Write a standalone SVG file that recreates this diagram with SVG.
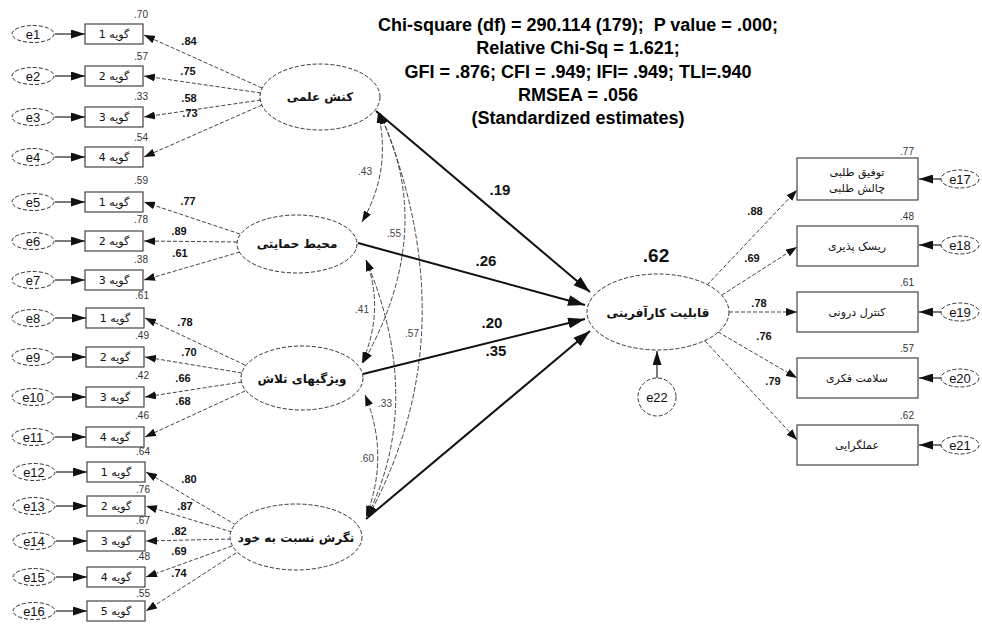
<svg xmlns="http://www.w3.org/2000/svg" width="982" height="624" viewBox="0 0 982 624">
<defs>
<style>
.lat{fill:#fff;stroke:#333;stroke-width:1;stroke-dasharray:4 2}
.err{fill:#fff;stroke:#333;stroke-width:1;stroke-dasharray:4 2}
.box{fill:#fff;stroke:#444;stroke-width:1.2}
.ld{stroke:#444;stroke-width:1;stroke-dasharray:4 2;fill:none;marker-end:url(#ah)}
.cov{stroke:#333;stroke-width:0.9;stroke-dasharray:5 2;fill:none;marker-start:url(#ah2);marker-end:url(#ah2)}
.str{stroke:#111;stroke-width:2;fill:none;marker-end:url(#ahb)}
.ea{stroke:#222;stroke-width:1.2;fill:none;marker-end:url(#ahe)}
.num{font-family:"Liberation Sans",Arial,sans-serif;fill:#111}
.r2{font-family:"Liberation Sans",Arial,sans-serif;font-size:10px;fill:#333;text-anchor:middle}
.lv{font-family:"Liberation Sans",Arial,sans-serif;font-size:11px;font-weight:bold;fill:#111;text-anchor:middle}
.cv{font-family:"Liberation Sans",Arial,sans-serif;font-size:10px;fill:#444;text-anchor:middle}
.sv{font-family:"Liberation Sans",Arial,sans-serif;font-size:15px;font-weight:bold;fill:#111;text-anchor:middle}
.et{font-family:"Liberation Sans",Arial,sans-serif;font-size:13px;fill:#111;text-anchor:middle}
.fa{font-family:"DejaVu Sans","Noto Sans",sans-serif;font-size:11px;fill:#111;text-anchor:middle}
.fab{font-family:"DejaVu Sans","Noto Sans",sans-serif;font-size:12px;font-weight:bold;fill:#111;text-anchor:middle}
.ttl{font-family:"Liberation Sans",Arial,sans-serif;font-size:18px;font-weight:bold;fill:#000;text-anchor:middle}
</style>
<marker id="ah" markerUnits="userSpaceOnUse" markerWidth="11" markerHeight="8" refX="11" refY="4" orient="auto"><path d="M0,0 L11,4 L0,8 z" fill="#111"/></marker>
<marker id="ah2" markerUnits="userSpaceOnUse" markerWidth="11" markerHeight="8" refX="11" refY="4" orient="auto-start-reverse"><path d="M0,0 L11,4 L0,8 z" fill="#111"/></marker>
<marker id="ahe" markerUnits="userSpaceOnUse" markerWidth="14" markerHeight="9" refX="14" refY="4.5" orient="auto"><path d="M0,0 L14,4.5 L0,9 z" fill="#111"/></marker>
<marker id="ahb" markerUnits="userSpaceOnUse" markerWidth="17" markerHeight="11" refX="17" refY="5.5" orient="auto"><path d="M0,0 L17,5.5 L0,11 z" fill="#111"/></marker>
</defs>
<rect width="982" height="624" fill="#fff"/>

<g id="title">
<text class="ttl" x="578" y="31">Chi-square (df) = 290.114 (179);&#160; P value = .000;</text>
<text class="ttl" x="578" y="54">Relative Chi-Sq = 1.621;</text>
<text class="ttl" x="578" y="78">GFI = .876; CFI = .949; IFI= .949; TLI=.940</text>
<text class="ttl" x="578" y="101">RMSEA = .056</text>
<text class="ttl" x="578" y="124">(Standardized estimates)</text>
</g>

<g id="connectors">
<line class="ea" x1="55" y1="34" x2="85" y2="34"/>
<line class="ea" x1="55" y1="76" x2="85" y2="76"/>
<line class="ea" x1="55" y1="117" x2="85" y2="117"/>
<line class="ea" x1="55" y1="157" x2="85" y2="157"/>
<line class="ea" x1="55" y1="202" x2="85" y2="202"/>
<line class="ea" x1="55" y1="241" x2="85" y2="241"/>
<line class="ea" x1="55" y1="280" x2="85" y2="280"/>
<line class="ea" x1="55" y1="318" x2="86" y2="318"/>
<line class="ea" x1="55" y1="357" x2="86" y2="357"/>
<line class="ea" x1="55" y1="397" x2="86" y2="397"/>
<line class="ea" x1="55" y1="437" x2="86" y2="437"/>
<line class="ea" x1="56" y1="472" x2="87" y2="472"/>
<line class="ea" x1="56" y1="506" x2="87" y2="506"/>
<line class="ea" x1="56" y1="541" x2="87" y2="541"/>
<line class="ea" x1="56" y1="577" x2="87" y2="577"/>
<line class="ea" x1="56" y1="611" x2="87" y2="611"/>
<line class="ld" x1="262" y1="88" x2="144" y2="35"/>
<line class="ld" x1="261" y1="93" x2="144" y2="76"/>
<line class="ld" x1="261" y1="100" x2="144" y2="117"/>
<line class="ld" x1="262" y1="105" x2="144" y2="157"/>
<line class="ld" x1="240" y1="234" x2="144" y2="202"/>
<line class="ld" x1="237" y1="242" x2="144" y2="241"/>
<line class="ld" x1="240" y1="252" x2="144" y2="280"/>
<line class="ld" x1="245" y1="365" x2="145" y2="318"/>
<line class="ld" x1="242" y1="373" x2="145" y2="357"/>
<line class="ld" x1="242" y1="382" x2="145" y2="397"/>
<line class="ld" x1="245" y1="391" x2="145" y2="437"/>
<line class="ld" x1="236" y1="525" x2="146" y2="472"/>
<line class="ld" x1="232" y1="532" x2="146" y2="506"/>
<line class="ld" x1="231" y1="539" x2="146" y2="541"/>
<line class="ld" x1="232" y1="546" x2="146" y2="577"/>
<line class="ld" x1="236" y1="553" x2="146" y2="611"/>
<path class="cov" d="M378,112 Q392,170 362,222"/>
<path class="cov" d="M379,113 Q438,230 363,363"/>
<path class="cov" d="M380,113 Q470,330 368,517"/>
<path class="cov" d="M366,260 Q385,310 362,363"/>
<path class="cov" d="M366,260 Q425,400 367,517"/>
<path class="cov" d="M365,395 Q390,455 366,517"/>
<line class="str" x1="376" y1="111" x2="590" y2="292"/>
<line class="str" x1="358" y1="243" x2="585" y2="305"/>
<line class="str" x1="363" y1="374" x2="585" y2="319"/>
<line class="str" x1="366" y1="519" x2="590" y2="331"/>
<line class="ea" x1="657" y1="378" x2="657" y2="351"/>
<line class="ld" x1="707" y1="285" x2="797" y2="190"/>
<line class="ld" x1="722" y1="295" x2="797" y2="247"/>
<line class="ld" x1="729" y1="312" x2="797" y2="312"/>
<line class="ld" x1="718" y1="332" x2="797" y2="378"/>
<line class="ld" x1="705" y1="341" x2="797" y2="440"/>
<line class="ea" x1="941" y1="179" x2="919" y2="179"/>
<line class="ea" x1="941" y1="245" x2="919" y2="245"/>
<line class="ea" x1="941" y1="312" x2="919" y2="312"/>
<line class="ea" x1="941" y1="378" x2="919" y2="378"/>
<line class="ea" x1="941" y1="445" x2="919" y2="445"/>
</g>

<g id="connector-labels">
<text class="lv" x="189" y="45">.84</text>
<text class="lv" x="188" y="75">.75</text>
<text class="lv" x="189" y="102">.58</text>
<text class="lv" x="190" y="117">.73</text>
<text class="lv" x="188" y="205">.77</text>
<text class="lv" x="179" y="235">.89</text>
<text class="lv" x="180" y="257">.61</text>
<text class="lv" x="185" y="326">.78</text>
<text class="lv" x="189" y="356">.70</text>
<text class="lv" x="183" y="382">.66</text>
<text class="lv" x="183" y="405">.68</text>
<text class="lv" x="189" y="483">.80</text>
<text class="lv" x="185" y="510">.87</text>
<text class="lv" x="179" y="535">.82</text>
<text class="lv" x="179" y="555">.69</text>
<text class="lv" x="179" y="577">.74</text>
<text class="cv" x="365" y="175">.43</text>
<text class="cv" x="394" y="237">.55</text>
<text class="cv" x="362" y="313">.41</text>
<text class="cv" x="412" y="337">.57</text>
<text class="cv" x="385" y="407">.33</text>
<text class="cv" x="367" y="462">.60</text>
<text class="sv" x="500" y="195">.19</text>
<text class="sv" x="486" y="266">.26</text>
<text class="sv" x="492" y="328">.20</text>
<text class="sv" x="496" y="356">.35</text>
<text class="lv" x="755" y="215">.88</text>
<text class="lv" x="752" y="262">.69</text>
<text class="lv" x="759" y="307">.78</text>
<text class="lv" x="764" y="340">.76</text>
<text class="lv" x="773" y="385">.79</text>
</g>

<g id="e1"><ellipse class="err" cx="33" cy="34" rx="21" ry="8.5"/><text class="et" x="33" y="38.5">e1</text></g>
<g id="e2"><ellipse class="err" cx="33" cy="76" rx="21" ry="8.5"/><text class="et" x="33" y="80.5">e2</text></g>
<g id="e3"><ellipse class="err" cx="33" cy="117" rx="21" ry="8.5"/><text class="et" x="33" y="121.5">e3</text></g>
<g id="e4"><ellipse class="err" cx="33" cy="157" rx="21" ry="8.5"/><text class="et" x="33" y="161.5">e4</text></g>
<g id="e5"><ellipse class="err" cx="33" cy="202" rx="21" ry="8.5"/><text class="et" x="33" y="206.5">e5</text></g>
<g id="e6"><ellipse class="err" cx="33" cy="241" rx="21" ry="8.5"/><text class="et" x="33" y="245.5">e6</text></g>
<g id="e7"><ellipse class="err" cx="33" cy="280" rx="21" ry="8.5"/><text class="et" x="33" y="284.5">e7</text></g>
<g id="e8"><ellipse class="err" cx="33" cy="318" rx="21" ry="8.5"/><text class="et" x="33" y="322.5">e8</text></g>
<g id="e9"><ellipse class="err" cx="33" cy="357" rx="21" ry="8.5"/><text class="et" x="33" y="361.5">e9</text></g>
<g id="e10"><ellipse class="err" cx="33" cy="397" rx="21" ry="8.5"/><text class="et" x="33" y="401.5">e10</text></g>
<g id="e11"><ellipse class="err" cx="33" cy="437" rx="21" ry="8.5"/><text class="et" x="33" y="441.5">e11</text></g>
<g id="e12"><ellipse class="err" cx="34" cy="472" rx="21" ry="8.5"/><text class="et" x="34" y="476.5">e12</text></g>
<g id="e13"><ellipse class="err" cx="34" cy="506" rx="21" ry="8.5"/><text class="et" x="34" y="510.5">e13</text></g>
<g id="e14"><ellipse class="err" cx="34" cy="541" rx="21" ry="8.5"/><text class="et" x="34" y="545.5">e14</text></g>
<g id="e15"><ellipse class="err" cx="34" cy="577" rx="21" ry="8.5"/><text class="et" x="34" y="581.5">e15</text></g>
<g id="e16"><ellipse class="err" cx="34" cy="611" rx="21" ry="8.5"/><text class="et" x="34" y="615.5">e16</text></g>

<g id="x1"><rect class="box" x="85" y="24" width="58" height="20"/><text class="fa" x="114" y="38">گویه 1</text><text class="r2" x="141" y="18">.70</text></g>
<g id="x2"><rect class="box" x="85" y="66" width="58" height="20"/><text class="fa" x="114" y="80">گویه 2</text><text class="r2" x="141" y="60">.57</text></g>
<g id="x3"><rect class="box" x="85" y="107" width="58" height="20"/><text class="fa" x="114" y="121">گویه 3</text><text class="r2" x="141" y="100">.33</text></g>
<g id="x4"><rect class="box" x="85" y="147" width="58" height="20"/><text class="fa" x="114" y="161">گویه 4</text><text class="r2" x="141" y="141">.54</text></g>
<g id="x5"><rect class="box" x="85" y="192" width="58" height="20"/><text class="fa" x="114" y="206">گویه 1</text><text class="r2" x="141" y="184">.59</text></g>
<g id="x6"><rect class="box" x="85" y="231" width="58" height="20"/><text class="fa" x="114" y="245">گویه 2</text><text class="r2" x="141" y="223">.78</text></g>
<g id="x7"><rect class="box" x="85" y="270" width="58" height="20"/><text class="fa" x="114" y="284">گویه 3</text><text class="r2" x="141" y="263">.38</text></g>
<g id="x8"><rect class="box" x="86" y="308" width="58" height="20"/><text class="fa" x="115" y="322">گویه 1</text><text class="r2" x="142" y="299">.61</text></g>
<g id="x9"><rect class="box" x="86" y="347" width="58" height="20"/><text class="fa" x="115" y="361">گویه 2</text><text class="r2" x="142" y="339">.49</text></g>
<g id="x10"><rect class="box" x="86" y="387" width="58" height="20"/><text class="fa" x="115" y="401">گویه 3</text><text class="r2" x="142" y="379">.42</text></g>
<g id="x11"><rect class="box" x="86" y="427" width="58" height="20"/><text class="fa" x="115" y="441">گویه 4</text><text class="r2" x="142" y="419">.46</text></g>
<g id="x12"><rect class="box" x="87" y="462" width="58" height="20"/><text class="fa" x="116" y="476">گویه 1</text><text class="r2" x="143" y="455">.64</text></g>
<g id="x13"><rect class="box" x="87" y="496" width="58" height="20"/><text class="fa" x="116" y="510">گویه 2</text><text class="r2" x="143" y="493">.76</text></g>
<g id="x14"><rect class="box" x="87" y="531" width="58" height="20"/><text class="fa" x="116" y="545">گویه 3</text><text class="r2" x="143" y="524">.67</text></g>
<g id="x15"><rect class="box" x="87" y="567" width="58" height="20"/><text class="fa" x="116" y="581">گویه 4</text><text class="r2" x="143" y="560">.48</text></g>
<g id="x16"><rect class="box" x="87" y="601" width="58" height="20"/><text class="fa" x="116" y="615">گویه 5</text><text class="r2" x="143" y="597">.55</text></g>

<g id="F1"><ellipse class="lat" cx="320" cy="97" rx="60" ry="33"/><text class="fab" x="320" y="101">کنش علمی</text></g>
<g id="F2"><ellipse class="lat" cx="297" cy="244" rx="60" ry="29"/><text class="fab" x="297" y="248">محیط حمایتی</text></g>
<g id="F3"><ellipse class="lat" cx="302" cy="378" rx="61" ry="32"/><text class="fab" x="302" y="383">ویژگیهای تلاش</text></g>
<g id="F4"><ellipse class="lat" cx="296" cy="537" rx="66" ry="33"/><text class="fab" x="296" y="542">نگرش نسبت به خود</text></g>
<g id="Y"><ellipse class="lat" cx="658" cy="312" rx="71" ry="38"/><text class="fab" x="658" y="317">قابلیت کارآفرینی</text><text class="num" x="656" y="262" font-size="19" font-weight="bold" text-anchor="middle">.62</text></g>
<g id="e22"><circle class="err" cx="657" cy="397" r="19"/><text class="et" x="657" y="401.5">e22</text></g>

<g id="y1"><rect class="box" x="797" y="158" width="121" height="42"/><text class="fa" x="857" y="176" font-size="10">توفیق طلبی</text><text class="fa" x="857" y="192" font-size="10">چالش طلبی</text><text class="r2" x="907" y="155" font-size="11">.77</text></g>
<g id="y2"><rect class="box" x="797" y="226" width="121" height="40"/><text class="fa" x="857" y="250" font-size="10">ریسک پذیری</text><text class="r2" x="907" y="220" font-size="11">.48</text></g>
<g id="y3"><rect class="box" x="797" y="292" width="121" height="40"/><text class="fa" x="857" y="316" font-size="10">کنترل درونی</text><text class="r2" x="907" y="286" font-size="11">.61</text></g>
<g id="y4"><rect class="box" x="797" y="358" width="121" height="40"/><text class="fa" x="857" y="382" font-size="10">سلامت فکری</text><text class="r2" x="907" y="352" font-size="11">.57</text></g>
<g id="y5"><rect class="box" x="797" y="425" width="121" height="40"/><text class="fa" x="857" y="449" font-size="10">عملگرایی</text><text class="r2" x="907" y="419" font-size="11">.62</text></g>

<g id="e17"><ellipse class="err" cx="960" cy="179" rx="19" ry="9"/><text class="et" x="960" y="183.5">e17</text></g>
<g id="e18"><ellipse class="err" cx="960" cy="245" rx="19" ry="9"/><text class="et" x="960" y="249.5">e18</text></g>
<g id="e19"><ellipse class="err" cx="960" cy="312" rx="19" ry="9"/><text class="et" x="960" y="316.5">e19</text></g>
<g id="e20"><ellipse class="err" cx="960" cy="378" rx="19" ry="9"/><text class="et" x="960" y="382.5">e20</text></g>
<g id="e21"><ellipse class="err" cx="960" cy="445" rx="19" ry="9"/><text class="et" x="960" y="449.5">e21</text></g>
</svg>
